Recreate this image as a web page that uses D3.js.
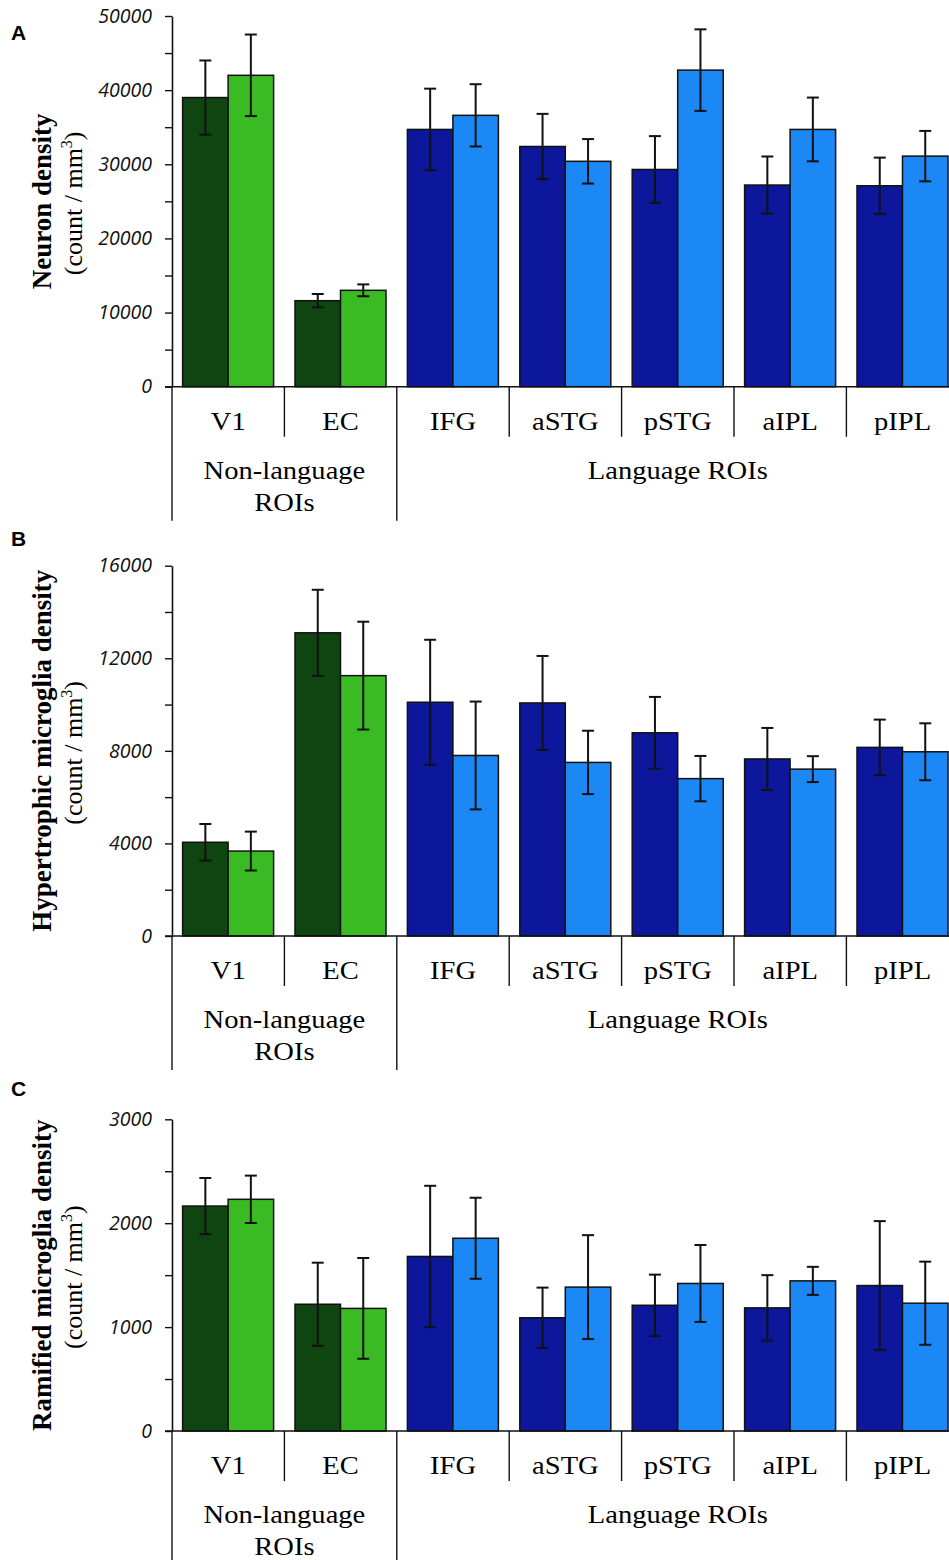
<!DOCTYPE html>
<html>
<head>
<meta charset="utf-8">
<script src="https://d3js.org/d3.v7.min.js"></script>
<style>
  body { margin: 0; background: #fff; }
  svg { display: block; }
</style>
</head>
<body>
<div id="chart"></div>
<script>
  // categories and ROI groups
  var categories = ["V1", "EC", "IFG", "aSTG", "pSTG", "aIPL", "pIPL"];
  var groupLabels = [["Non-language", "ROIs"], ["Language ROIs"]];
  var groupStarts = [0, 2];   // index of first category in each group

  // panel A: neuron density
  var neuronDark = [39000, 11600, 34700, 32400, 29300, 27200, 27100];
  var neuronLight = [42000, 13000, 36600, 30400, 42700, 34700, 31100];
  var neuronDarkErr = [5000, 900, 5500, 4400, 4500, 3850, 3800];
  var neuronLightErr = [5500, 800, 4200, 3000, 5500, 4300, 3400];
  var neuronTicks = [0, 5000, 10000, 15000, 20000, 25000, 30000, 35000, 40000, 45000, 50000];

  // panel B: hypertrophic microglia density
  var hyperDark = [4050, 13100, 10100, 10070, 8780, 7650, 8150];
  var hyperLight = [3670, 11250, 7800, 7500, 6800, 7210, 7960];
  var hyperDarkErr = [790, 1860, 2700, 2030, 1550, 1340, 1200];
  var hyperLightErr = [840, 2330, 2330, 1370, 980, 560, 1230];
  var hyperTicks = [0, 2000, 4000, 6000, 8000, 10000, 12000, 14000, 16000];

  // panel C: ramified microglia density
  var ramDark = [2165, 1220, 1680, 1090, 1210, 1185, 1400];
  var ramLight = [2230, 1180, 1855, 1385, 1420, 1445, 1230];
  var ramDarkErr = [270, 400, 680, 290, 295, 315, 620];
  var ramLightErr = [228, 485, 390, 500, 370, 135, 400];
  var ramTicks = [0, 500, 1000, 1500, 2000, 2500, 3000];

  var greenDark = "#0f4511", greenLight = "#3abb24";
  var blueDark = "#0c179b", blueLight = "#1c88f5";

  var W = 949, H = 1560;
  var svg = d3.select("#chart").append("svg")
    .attr("width", W)
    .attr("height", H);

  var left = 172, catW = 112.4;
  var x = d3.scaleBand()
    .domain(categories)
    .range([left, left + catW * categories.length])
    .paddingInner(0)
    .paddingOuter(0);
  var barW = 45.5, barOff = 10.6;

  var serif = "'Liberation Serif', 'Times New Roman', serif";
  var stretch = 1.12; // serif labels look a bit wide in the original

  function drawPanel(p) {
    var g = svg.append("g");
    var y = d3.scaleLinear()
      .domain([0, p.max])
      .range([p.y0, p.yTop]);

    // panel letter
    g.append("text")
      .attr("x", 11)
      .attr("y", p.letterY)
      .style("font-family", "Arial, 'Liberation Sans', sans-serif")
      .style("font-weight", "bold")
      .style("font-size", "21px")
      .text(p.letter);

    // y axis
    var yAxis = g.append("g")
      .attr("transform", "translate(" + left + ",0)")
      .call(d3.axisLeft(y)
        .tickValues(p.ticks)
        .tickSize(7)
        .tickSizeOuter(0)
        .tickPadding(13)
        .tickFormat(function (d) { return (d % p.labelStep === 0) ? d : ""; }));
    yAxis.select(".domain").attr("stroke", "#111").attr("stroke-width", 1.6);
    yAxis.selectAll(".tick line").attr("stroke", "#111").attr("stroke-width", 1.4);
    yAxis.selectAll(".tick text")
      .style("font-family", "'Open Sans', sans-serif")
      .style("font-style", "italic")
      .style("font-size", "19.5px")
      .attr("fill", "#111");

    // y title
    var cy = (p.y0 + p.yTop) / 2;
    g.append("text")
      .attr("transform", "translate(51," + cy + ") rotate(-90)")
      .attr("text-anchor", "middle")
      .style("font-family", serif)
      .style("font-weight", "bold")
      .style("font-size", "27px")
      .text(p.title);
    var sub = g.append("text")
      .attr("transform", "translate(82," + (cy + 2) + ") rotate(-90)")
      .attr("text-anchor", "middle")
      .style("font-family", serif)
      .style("font-size", "26px");
    sub.append("tspan").text("(count / mm");
    sub.append("tspan").attr("dy", -10).style("font-size", "16px").text("3");
    sub.append("tspan").attr("dy", 10).text(")");

    // bars and error bars
    var rows = categories.map(function (c, i) {
      var green = i < groupStarts[1];
      return [
        { cat: c, off: barOff, v: p.dark[i], e: p.darkErr[i], col: green ? greenDark : blueDark },
        { cat: c, off: barOff + barW, v: p.light[i], e: p.lightErr[i], col: green ? greenLight : blueLight }
      ];
    });
    var bars = d3.merge(rows);

    g.selectAll(".bar")
      .data(bars)
      .enter()
      .append("rect")
      .attr("class", "bar")
      .attr("x", function (d) { return x(d.cat) + d.off; })
      .attr("y", function (d) { return y(d.v); })
      .attr("width", barW)
      .attr("height", function (d) { return y(0) - y(d.v); })
      .attr("fill", function (d) { return d.col; })
      .attr("stroke", "#111")
      .attr("stroke-width", 1.5);

    var eb = g.selectAll(".err")
      .data(bars)
      .enter()
      .append("g")
      .attr("class", "err")
      .attr("stroke", "#111")
      .attr("stroke-width", 2);
    eb.append("line")
      .attr("x1", function (d) { return x(d.cat) + d.off + barW / 2; })
      .attr("x2", function (d) { return x(d.cat) + d.off + barW / 2; })
      .attr("y1", function (d) { return y(d.v + d.e); })
      .attr("y2", function (d) { return y(d.v - d.e); });
    [1, -1].forEach(function (s) {
      eb.append("line")
        .attr("x1", function (d) { return x(d.cat) + d.off + barW / 2 - 6; })
        .attr("x2", function (d) { return x(d.cat) + d.off + barW / 2 + 6; })
        .attr("y1", function (d) { return y(d.v + s * d.e); })
        .attr("y2", function (d) { return y(d.v + s * d.e); });
    });

    // x axis baseline
    g.append("line")
      .attr("x1", left - 7).attr("x2", x.range()[1])
      .attr("y1", y(0)).attr("y2", y(0))
      .attr("stroke", "#111").attr("stroke-width", 1.6);

    // category separators and labels
    var shortBottom = y(0) + 50, longBottom = y(0) + p.longLen;
    categories.forEach(function (c, i) {
      var isGroupStart = groupStarts.indexOf(i) >= 0;
      g.append("line")
        .attr("x1", x(c)).attr("x2", x(c))
        .attr("y1", y(0)).attr("y2", isGroupStart ? longBottom : shortBottom)
        .attr("stroke", "#111").attr("stroke-width", 1.4);
      g.append("text")
        .attr("transform", "translate(" + (x(c) + x.bandwidth() / 2) + "," + (y(0) + 43) + ") scale(" + stretch + ",1)")
        .attr("text-anchor", "middle")
        .style("font-family", serif)
        .style("font-size", "25.5px")
        .text(c);
    });

    // group labels
    groupLabels.forEach(function (lines, gi) {
      var a = categories[groupStarts[gi]];
      var bIdx = gi + 1 < groupStarts.length ? groupStarts[gi + 1] : categories.length;
      var cx = (x(a) + (bIdx < categories.length ? x(categories[bIdx]) : x.range()[1])) / 2;
      lines.forEach(function (t, li) {
        g.append("text")
          .attr("transform", "translate(" + cx + "," + (y(0) + 92 + li * 32) + ") scale(" + stretch + ",1)")
          .attr("text-anchor", "middle")
          .style("font-family", serif)
          .style("font-size", "25.5px")
          .text(t);
      });
    });
  }

  drawPanel({
    letter: "A", letterY: 40, title: "Neuron density",
    max: 50000, ticks: neuronTicks, labelStep: 10000,
    yTop: 16, y0: 386.7, longLen: 134,
    dark: neuronDark, light: neuronLight, darkErr: neuronDarkErr, lightErr: neuronLightErr
  });
  drawPanel({
    letter: "B", letterY: 546, title: "Hypertrophic microglia density",
    max: 16000, ticks: hyperTicks, labelStep: 4000,
    yTop: 565.7, y0: 936, longLen: 134,
    dark: hyperDark, light: hyperLight, darkErr: hyperDarkErr, lightErr: hyperLightErr
  });
  drawPanel({
    letter: "C", letterY: 1096, title: "Ramified microglia density",
    max: 3000, ticks: ramTicks, labelStep: 1000,
    yTop: 1119.3, y0: 1431, longLen: 140,
    dark: ramDark, light: ramLight, darkErr: ramDarkErr, lightErr: ramLightErr
  });
</script>
</body>
</html>
